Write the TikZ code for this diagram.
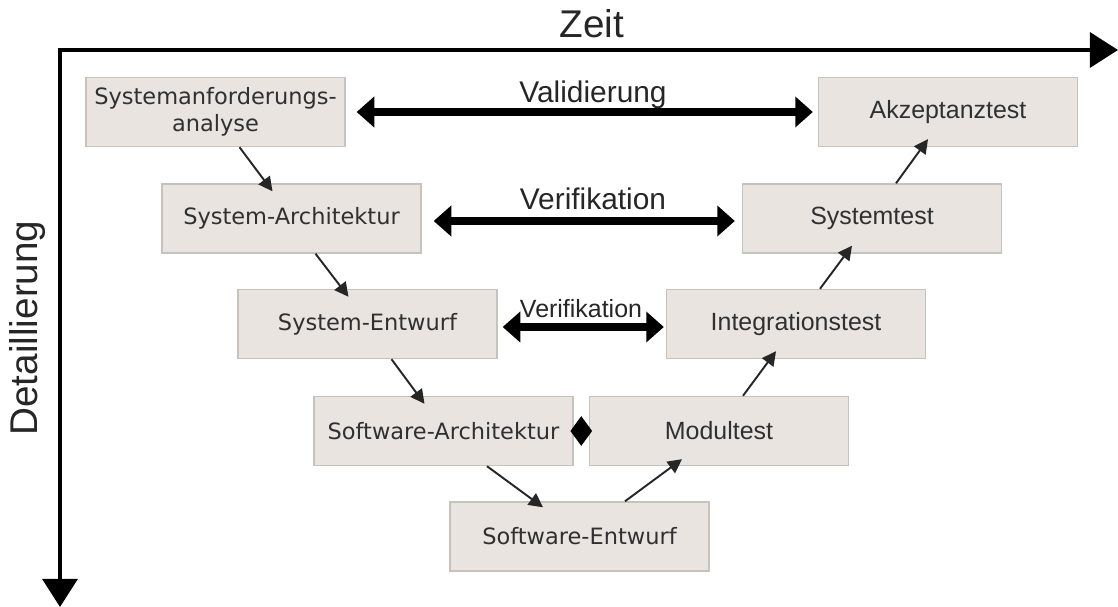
\documentclass[tikz,border=0pt]{standalone}
\usepackage{fontspec}
\setmainfont{Liberation Sans}
\newfontfamily\dejavu{DejaVu Sans}
\usetikzlibrary{arrows.meta,shapes.geometric,calc}
\definecolor{boxfill}{RGB}{234,228,224}
\definecolor{boxline}{RGB}{198,194,190}
\definecolor{textgray}{RGB}{48,48,48}

\begin{document}
\begin{tikzpicture}[x=0.02cm, y=-0.02cm,
		box/.style={draw=boxline, fill=boxfill, line width=0.8pt, minimum width=5.18cm, minimum height=1.38cm, inner sep=0pt, align=center, text=textgray},
		flow/.style={-{Triangle[length=8pt,width=8pt]}, line width=1.1pt, black!85},
		bigarrow/.style={{Triangle[length=10pt,width=17pt]}-{Triangle[length=10pt,width=17pt]}, line width=5pt},
		axis/.style={{Triangle[length=16pt,width=20pt]}-{Triangle[length=16pt,width=20pt]}, line width=1.8pt}]
			\useasboundingbox (0,0) rectangle (1118,607);
			% axes
			\coordinate (o) at (60,50);
			\coordinate (tend) at (1118,50);
			\coordinate (dend) at (60,607);
			\draw[axis] (dend) -- (o) -- (tend);
			\node[anchor=base, font=\fontsize{22}{26}\selectfont, text=black!85] (zeit) at (592,38) {Zeit};
			\node[rotate=90, font=\fontsize{22}{26}\selectfont, text=black!85] (detail) at (28,328) {Detaillierung};
			% left branch
			\foreach \name/\x/\y/\txt in {sra/215.5/112/{Systemanforderungs-\\analyse}, sarch/291.5/218.5/System-Architektur, sentw/367.5/324/System-Entwurf, swarch/443.5/431/Software-Architektur, swentw/579.5/536.5/Software-Entwurf}
				\node[box, font=\dejavu\fontsize{12.8}{15.5}\selectfont] (\name) at (\x,\y) {\txt};
			% right branch
			\foreach \name/\x/\y/\txt in {modt/719/431/Modultest, intt/796/324/Integrationstest, syst/872/218.5/Systemtest, akzt/948/112/Akzeptanztest}
				\node[box, font=\fontsize{14.2}{17}\selectfont] (\name) at (\x,\y) {\txt};
			% flow down and up
			\foreach \a/\b in {sra/sarch, sarch/sentw, sentw/swarch}
				\draw[flow] ([xshift=0.48cm]\a.south) -- ([xshift=-0.38cm,yshift=-0.16cm]\b.north);
			\draw[flow] ([xshift=0.87cm]swarch.south) -- ([xshift=-0.73cm,yshift=-0.12cm]swentw.north);
			\draw[flow] ([xshift=0.91cm]swentw.north) -- ([xshift=-0.74cm,yshift=0.14cm]modt.south);
			\foreach \a/\b in {modt/intt, intt/syst, syst/akzt}
				\draw[flow] ([xshift=0.48cm]\a.north) -- ([xshift=-0.4cm,yshift=0.16cm]\b.south);
			% validation and verification
			\draw[bigarrow, shorten <=0.22cm, shorten >=0.1cm] (sra.east) -- (akzt.west);
			\draw[bigarrow, shorten <=0.24cm, shorten >=0.14cm] ([yshift=-0.05cm]sarch.east) -- ([yshift=-0.05cm]syst.west);
			\draw[bigarrow, shorten <=0.1cm, shorten >=0.04cm] ([yshift=-0.06cm]sentw.east) -- ([yshift=-0.06cm]intt.west);
			\node[diamond, fill=black, inner sep=0pt, minimum width=0.44cm, minimum height=0.6cm] (raute) at ($(swarch.east)!0.5!(modt.west)$) {};
			\node[anchor=base, font=\fontsize{17}{20}\selectfont, text=black!85] (val) at (593,103) {Validierung};
			\node[anchor=base, font=\fontsize{17}{20}\selectfont, text=black!85] (ver) at (593,210) {Verifikation};
			\node[anchor=base, font=\fontsize{14.2}{17}\selectfont, text=black!85] (verklein) at (581,318) {Verifikation};
		\end{tikzpicture}
\end{document}
